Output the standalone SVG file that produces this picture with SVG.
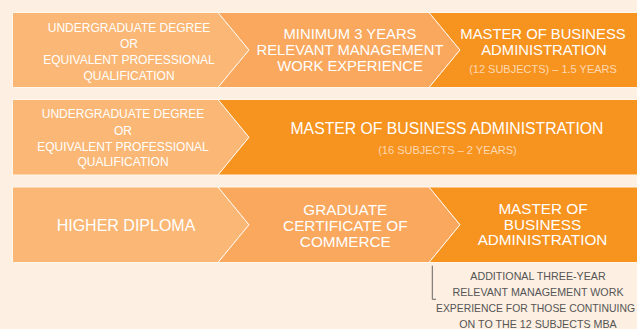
<svg xmlns="http://www.w3.org/2000/svg" width="637" height="329" viewBox="0 0 637 329">
<style>
.l{fill:#FBB775;stroke:#FFF6EC;stroke-width:1}
.m{fill:#F9A85E;stroke:#FFF6EC;stroke-width:1}
.d{fill:#F7931F;stroke:#FFF6EC;stroke-width:1}
text{font-family:"Liberation Sans",Arial,sans-serif;text-anchor:middle;fill:#FFFFFF}
.s{font-size:12px}
.b{font-size:14.8px}
.c{font-size:15.3px}
.sub{font-size:11px;fill:#FDD8B0}
.note{font-size:10.7px;fill:#555555}
</style>
<rect width="637" height="329" fill="#FDEFE2"/>
<g id="row1">
<g id="r1-undergrad">
<polygon class="l" points="12.5,12.5 218,12.5 249,50 218,87.5 12.5,87.5"/>
<text class="s" x="129" y="31.5">UNDERGRADUATE DEGREE</text>
<text class="s" x="129" y="48">OR</text>
<text class="s" x="129" y="64">EQUIVALENT PROFESSIONAL</text>
<text class="s" x="129" y="79.5">QUALIFICATION</text>
</g>
<g id="r1-experience">
<polygon class="m" points="218,12.5 429,12.5 460,50 429,87.5 218,87.5 249,50"/>
<text class="b" x="350" y="39.3">MINIMUM 3 YEARS</text>
<text class="b" x="350" y="55">RELEVANT MANAGEMENT</text>
<text class="b" x="350" y="71">WORK EXPERIENCE</text>
</g>
<g id="r1-mba">
<polygon class="d" points="429,12.5 640,12.5 640,87.5 429,87.5 460,50"/>
<text class="b" x="543" y="38.5">MASTER OF BUSINESS</text>
<text class="b" x="544" y="54.8">ADMINISTRATION</text>
<text class="sub" x="543" y="72.7">(12 SUBJECTS) – 1.5 YEARS</text>
</g>
</g>
<g id="row2">
<g id="r2-undergrad">
<polygon class="l" points="12.5,99.5 218,99.5 249,137.25 218,175 12.5,175"/>
<text class="s" x="123" y="118.3">UNDERGRADUATE DEGREE</text>
<text class="s" x="123" y="135">OR</text>
<text class="s" x="123" y="151">EQUIVALENT PROFESSIONAL</text>
<text class="s" x="123" y="166">QUALIFICATION</text>
</g>
<g id="r2-mba">
<polygon class="d" points="218,99.5 640,99.5 640,175 218,175 249,137.25"/>
<text class="b" x="447" y="134.3" style="font-size:15.75px">MASTER OF BUSINESS ADMINISTRATION</text>
<text class="sub" x="447.5" y="154.3">(16 SUBJECTS – 2 YEARS)</text>
</g>
</g>
<g id="row3">
<g id="r3-diploma">
<polygon class="l" points="12.5,187 218,187 249,224.75 218,262.5 12.5,262.5"/>
<text class="c" x="126" y="231" style="font-size:16px">HIGHER DIPLOMA</text>
</g>
<g id="r3-certificate">
<polygon class="m" points="218,187 429,187 460,224.75 429,262.5 218,262.5 249,224.75"/>
<text class="c" x="345.3" y="215">GRADUATE</text>
<text class="c" x="345.3" y="231">CERTIFICATE OF</text>
<text class="c" x="345.3" y="246.7">COMMERCE</text>
</g>
<g id="r3-mba">
<polygon class="d" points="429,187 640,187 640,262.5 429,262.5 460,224.75"/>
<text class="c" x="543" y="214">MASTER OF</text>
<text class="c" x="542.5" y="229.5">BUSINESS</text>
<text class="c" x="542.5" y="245">ADMINISTRATION</text>
</g>
</g>
<g id="connectors">
<polyline points="432.3,265.7 432.3,299.3 436,299.3" fill="none" stroke="#666666" stroke-width="1"/>
</g>
<g id="note">
<text class="note" x="538" y="280">ADDITIONAL THREE-YEAR</text>
<text class="note" x="538" y="296">RELEVANT MANAGEMENT WORK</text>
<text class="note" x="535.5" y="312" style="font-size:10.4px">EXPERIENCE FOR THOSE CONTINUING</text>
<text class="note" x="538" y="328">ON TO THE 12 SUBJECTS MBA</text>
</g>
</svg>
